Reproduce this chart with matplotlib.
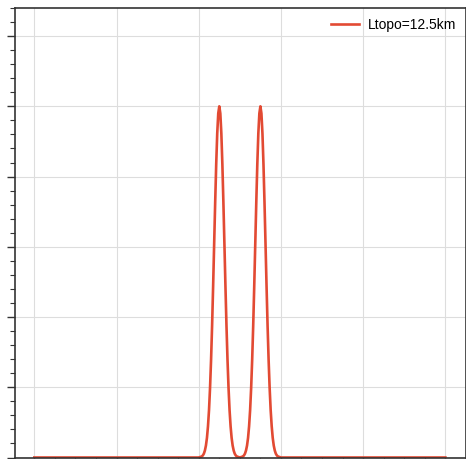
import matplotlib
matplotlib.use("Agg")
import matplotlib.pyplot as plt
from matplotlib.ticker import MultipleLocator, NullFormatter

# Profile of one bump (offset from centre in km, height)
offset_km = [-50, -47.5, -45, -42.5, -40, -37.5, -35, -32.5, -30, -27.5, -25,
             -22.5, -20, -17.5, -15, -12.5, -10, -7.5, -5, -2.5, 0,
             2.5, 5, 7.5, 10, 12.5, 15, 17.5, 20, 22.5, 25,
             27.5, 30, 32.5, 35, 37.5, 40, 42.5, 45, 47.5, 50]
bump = [0.000, 0.001, 0.002, 0.003, 0.006, 0.011, 0.020, 0.034, 0.056, 0.089, 0.135,
        0.198, 0.278, 0.375, 0.487, 0.607, 0.726, 0.835, 0.923, 0.980, 1.000,
        0.980, 0.923, 0.835, 0.726, 0.607, 0.487, 0.375, 0.278, 0.198, 0.135,
        0.089, 0.056, 0.034, 0.020, 0.011, 0.006, 0.003, 0.002, 0.001, 0.000]
peak_centers_km = [450, 550]
domain_km = [0, 1000]
label = "Ltopo=12.5km"

x = [domain_km[0]]
y = [0.0]
for c in peak_centers_km:
    for o, b in zip(offset_km, bump):
        x.append(c + o)
        y.append(b)
x.append(domain_km[1])
y.append(0.0)

plt.rcParams['font.family'] = ['Liberation Sans', 'DejaVu Sans']

fig = plt.figure(figsize=(4.66, 4.59), dpi=100)
ax = fig.add_axes([15/466, 1 - 457.5/459, (465.5 - 15)/466, (457.5 - 8)/459])

ax.plot(x, y, color='#e24a33', lw=1.9, label=label)

ax.set_xlim(-47, 1049)
ax.set_ylim(0, 1.28)
ax.xaxis.set_major_locator(MultipleLocator(200))
ax.xaxis.set_minor_locator(MultipleLocator(50))
ax.yaxis.set_major_locator(MultipleLocator(0.2))
ax.yaxis.set_minor_locator(MultipleLocator(0.04))
ax.xaxis.set_major_formatter(NullFormatter())
ax.yaxis.set_major_formatter(NullFormatter())
ax.tick_params(which='both', direction='out', color='#333333', top=False, right=False)
ax.tick_params(which='major', length=6, width=1.0)
ax.tick_params(which='minor', length=3.3, width=0.8)

ax.grid(True, which='major', color='#dddddd', lw=0.8)
ax.set_axisbelow(True)
for s in ax.spines.values():
    s.set_color('#333333')
    s.set_linewidth(1.2)

ax.legend(loc='upper right', frameon=False, fontsize=10, handlelength=2.0,
          borderaxespad=0.3, handletextpad=0.6)

fig.savefig('out.png', dpi=100)
